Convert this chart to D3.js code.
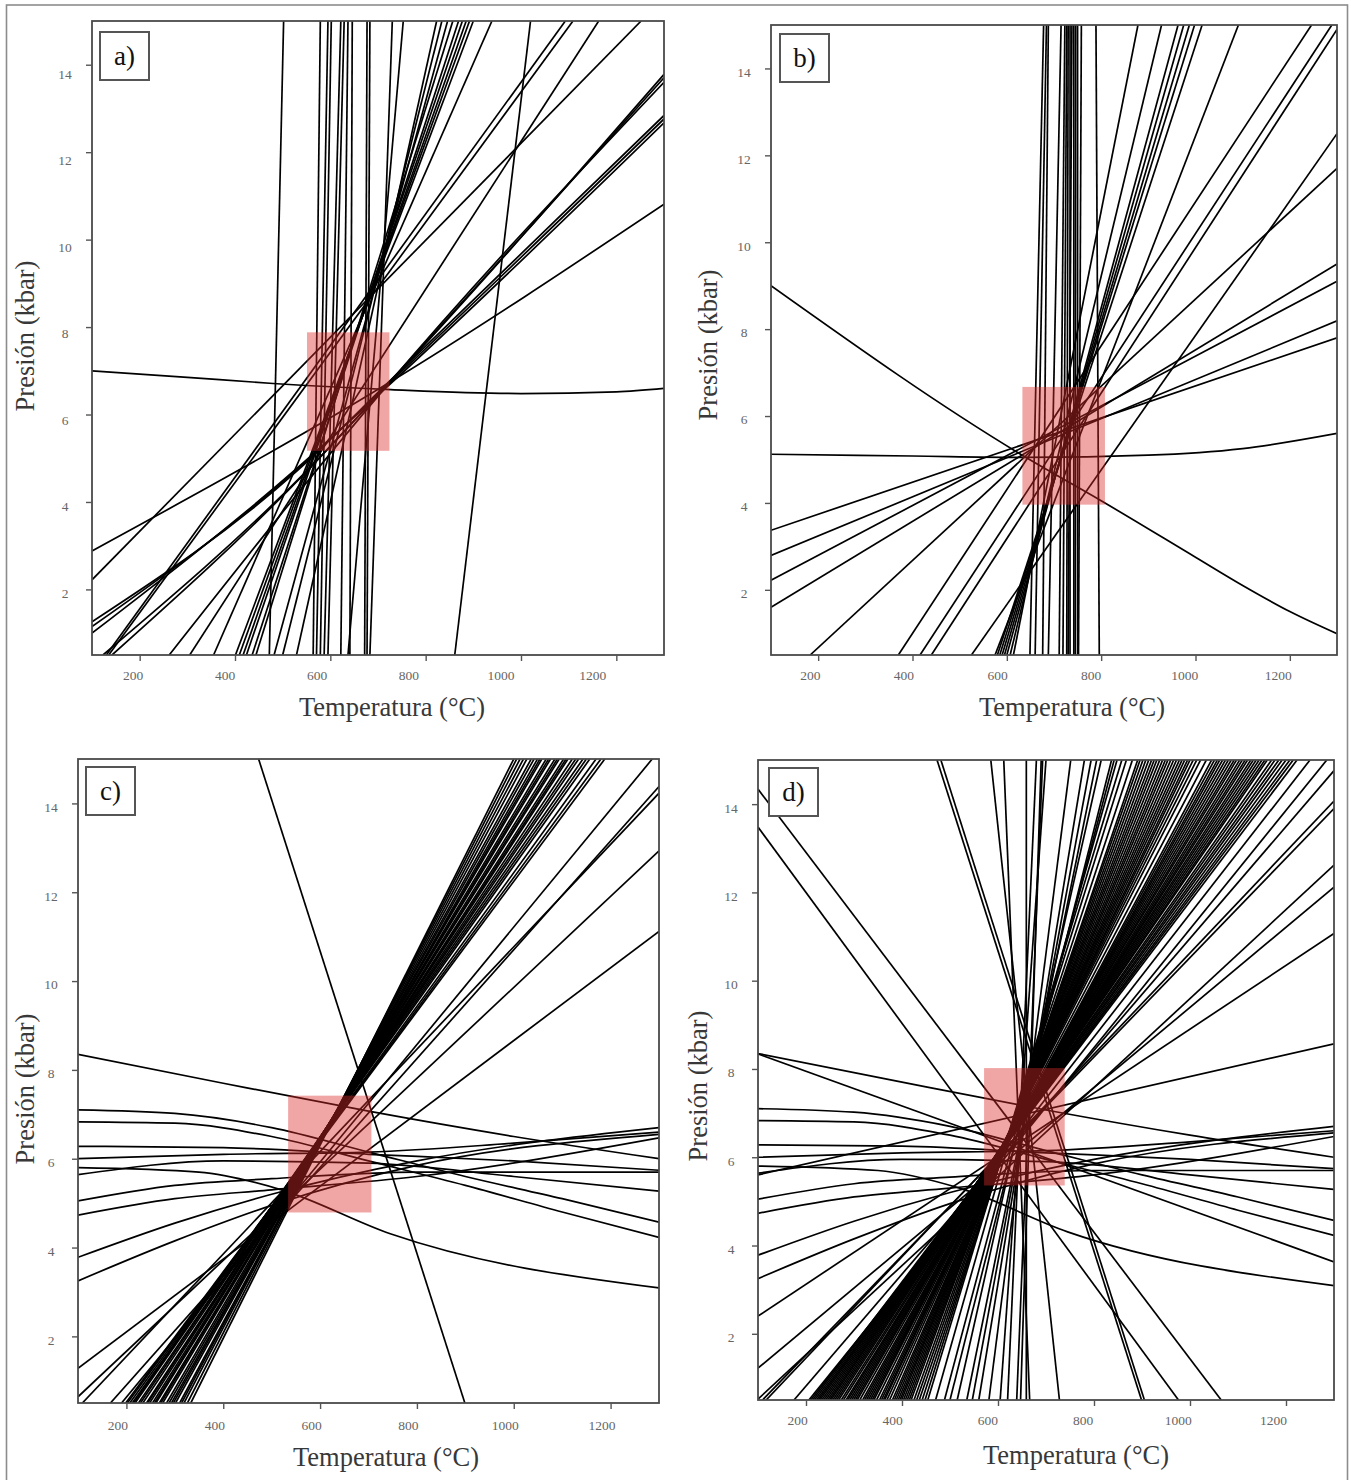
<!DOCTYPE html>
<html><head><meta charset="utf-8">
<script src="https://cdn.jsdelivr.net/npm/d3@7"></script>
<style>body{margin:0;background:#fff}svg{display:block}</style>
</head><body>
<svg id="fig" width="1351" height="1480"></svg>
<script>
// Axes shared by all four P–T diagrams
const tempDomain = [100, 1300];
const presDomain = [0.5, 15];
const tempTicks = [200, 400, 600, 800, 1000, 1200];
const presTicks = [2, 4, 6, 8, 10, 12, 14];
const panelLetters = ["a)", "b)", "c)", "d)"];
const xTitle = "Temperatura (°C)";
const yTitle = "Presión (kbar)";

// Shaded P–T windows: [Tmin, Tmax, Pmin, Pmax]
const windowA = [551, 724, 5.17, 7.88];
const windowB = [633, 808, 3.96, 6.67];
const windowC = [534, 706, 4.79, 7.42];
const windowD = [571, 739, 5.36, 8.02];

// ---- panel a ----
// near-vertical reactions: [T at 0.5 kbar, T at 15 kbar]
const steepA = [[472,502],[564,579],[571,595],[579,602],[587,622],[595,629],[622,637],[641,646],
  [672,677],[677,683],[683,730],[637,753],[861,1020]];
// straight reactions from the bottom edge to the top edge: [T at 0.5, T at 15]
const fanA = [[401,900],[409,892],[417,885],[424,877],[436,869],[444,857],[482,846],[500,834],
  [529,823],[355,939],[305,1163],[130,1093],[135,1109]];
// other reactions as [T, P] polylines
const curvesA = [
  [[100,7.0],[300,6.85],[480,6.71],[727,6.57],[1000,6.48],[1200,6.52],[1300,6.6]],
  [[100,2.88],[722,6.72],[1300,10.81]],
  [[100,2.22],[1252,15]],
  [[100,1.26],[529,4.70],[722,6.74],[1300,12.84]],
  [[100,1.15],[529,4.73],[722,6.70],[1300,12.76]],
  [[100,1.0],[529,4.76],[722,6.66],[1300,12.67]],
  [[123,0.5],[552,4.73],[722,6.7],[1300,13.78]],
  [[142,0.5],[555,4.75],[722,6.72],[1300,13.7]],
  [[262,0.5],[722,6.7],[1300,13.6]]
];

// ---- panel b ----
const steepB = [[649,678],[660,684],[676,688],[688,715],[711,723],[719,727],[727,730],[730,738],
  [734,734],[742,742],[745,746],[750,750],[752,758],[796,789]];
const fanB = [[575,1091],[580,1014],[585,998],[590,987],[595,975],[600,963],[607,928],[614,878],
  [370,1246],[416,1289]];
const curvesB = [
  [[100,9.0],[640,5.05],[800,4.05],[1000,2.75],[1100,2.1],[1200,1.5],[1300,0.99]],
  [[100,5.12],[400,5.08],[640,5.05],[900,5.1],[1100,5.25],[1300,5.6]],
  [[100,3.37],[1300,7.8]],
  [[100,2.79],[1300,8.19]],
  [[100,2.22],[1300,9.1]],
  [[100,1.60],[1300,9.5]],
  [[183,0.5],[1300,11.7]],
  [[525,0.5],[1300,12.5]],
  [[440,0.5],[1300,14.9]]
];

// ---- shallow curved reactions seen in panels c and d ----
const flatCurves = [
  [[100,8.35],[400,7.7],[700,7.07],[1000,6.5],[1300,6.0]],
  [[100,7.1],[300,7.02],[500,6.7],[700,6.15],[900,5.6],[1100,5.1],[1300,4.57]],
  [[100,6.83],[300,6.8],[500,6.5],[700,5.95],[900,5.4],[1100,4.8],[1300,4.23]],
  [[100,6.28],[400,6.25],[700,6.1],[1000,5.95],[1300,5.74]],
  [[100,6.0],[400,6.1],[700,6.15],[1000,6.35],[1300,6.6]],
  [[100,5.8],[350,5.7],[520,5.3],[745,4.31],[1300,3.09]],
  [[100,5.64],[400,5.95],[700,5.9],[1000,5.6],[1300,5.27]],
  [[100,5.05],[300,5.4],[500,5.55],[800,5.7],[1300,5.7]],
  [[100,4.73],[300,5.1],[500,5.3],[800,5.6],[1300,6.47]],
  [[100,3.78],[300,4.55],[500,5.2],[800,5.95],[1300,6.7]],
  [[100,3.25],[300,4.15],[500,4.95],[800,5.85],[1300,6.55]]
];

// ---- panel c ----
const fanBottomC = [198.5,202,207,212,215,218,225,229,234,241.5,244,248,254,258,261,268,271,275,283,
  288,293,297,301.5,310,314,319,326,333];
const fanTopC = [1188,1180,1170,1157,1150,1143,1134,1128,1121,1112,1108,1103,1094,1090,1085,1076,1072,
  1067,1058,1054,1049,1042,1036,1027,1020,1013,1006,1000];
const curvesC = [
  [[473,15],[899,0.5]],
  [[100,1.28],[1300,11.12]],
  [[100,0.64],[1300,12.93]],
  [[109,0.5],[1300,14.23]],
  [[167,0.5],[1300,14.38]],
  [[190,0.5],[1286,15]]
];

// ---- panel d ----
const fanBottomD = [206,210,214,218,222,225.5,229,233,237,241,245,248.7,252,256,260,264,268,273.5,278,283.5,
  287,291,295,299,303,306.7,312,318,322,326,330,334,338,341.5,347,353,357,361,364,368.6,374,380,384,388,
  392,395.7,399,403,407,411,415,419,425,430.5,436,442,448,453.7,470,488.5,500,515,535,546.5,560,581];
const fanTopD = [1285,1250,1223,1215,1208,1200,1192,1185,1177,1170,1161,1156,1150,1144,1138,1132,1126.6,
  1120,1115,1109,1103.5,1097,1092,1086,1080,1074,1068,1062,1057,1051,1045,1034,1022,1014,1006.7,1000,995,
  989,983.5,978,972,966,960,954,948.7,943,937,931,925.5,920,914,908,902,896,891,880,867.5,858,848,842,
  836.6,815,805.6,794,780,751.5];
const steepD = [[728,585],[666,612],[659,659],[647,690],[639,693],[604.5,700],[620,680]];
const curvesD = [
  [[473,15],[899,0.5]],
  [[481,15],[905,0.5]],
  [[100,14.34],[1065,0.5]],
  [[100,13.48],[976,0.5]],
  [[100,8.34],[1300,3.63]],
  [[100,5.6],[1300,8.57]],
  [[100,2.4],[1300,11.07]],
  [[100,1.22],[1300,12.12]],
  [[100,0.52],[1300,12.62]],
  [[109.5,0.5],[1300,13.9]],
  [[117,0.5],[1300,14.07]],
  [[175,0.5],[1300,14.76]]
];

// helpers turning edge crossings into [T,P] polylines
const pMin = presDomain[0], pMax = presDomain[1];
const edgePairs = pairs => pairs.map(([tb, tt]) => [[tb, pMin], [tt, pMax]]);
const zipFan = (bottoms, tops) => bottoms.map((tb, i) => [[tb, pMin], [tops[i], pMax]]);

const panels = [
  { frame: {x0: 92, x1: 664, y0: 21, y1: 655},
    lines: [...edgePairs(steepA), ...edgePairs(fanA), ...curvesA],
    win: windowA, box: [8, 11],
    xlab: {a: -7, b: -0.017, y: 25}, ylab: {a: 3.3, b: 0.48},
    xt: [392, 716], yt: [34, 336] },
  { frame: {x0: 771, x1: 1337, y0: 25, y1: 655},
    lines: [...edgePairs(steepB), ...edgePairs(fanB), ...curvesB],
    win: windowB, box: [9, 9],
    xlab: {a: -8.4, b: -0.0036, y: 25}, ylab: {a: 2.8, b: 0.05},
    xt: [1072, 716], yt: [717, 345] },
  { frame: {x0: 78, x1: 659, y0: 759, y1: 1403},
    lines: [...zipFan(fanBottomC, fanTopC), ...curvesC, ...flatCurves],
    win: windowC, box: [8, 8],
    xlab: {a: -9, b: 0, y: 27}, ylab: {a: 3.2, b: 0},
    xt: [386, 1466], yt: [34, 1089] },
  { frame: {x0: 758, x1: 1334, y0: 760, y1: 1400},
    lines: [...zipFan(fanBottomD, fanTopD), ...edgePairs(steepD), ...curvesD, ...flatCurves],
    win: windowD, box: [11, 8],
    xlab: {a: -9, b: -0.004, y: 25}, ylab: {a: 3.2, b: 0},
    xt: [1076, 1464], yt: [707, 1086] }
];

const svg = d3.select("#fig");
svg.append("rect").attr("width", 1351).attr("height", 1480).attr("fill", "#fff");

// surrounding table border
svg.append("rect").attr("x", 6.5).attr("y", 5).attr("width", 1341).attr("height", 1490)
  .attr("fill", "none").attr("stroke", "#8c8c8c").attr("stroke-width", 1.6);

const serif = "'Liberation Serif', 'DejaVu Serif', serif";
const tickFmt = d3.format("d");

panels.forEach((p, i) => {
  const f = p.frame;
  const x = d3.scaleLinear().domain(tempDomain).range([f.x0, f.x1]);
  const y = d3.scaleLinear().domain(presDomain).range([f.y1, f.y0]);
  const g = svg.append("g");

  const clipId = "clip" + i;
  g.append("clipPath").attr("id", clipId).append("rect")
    .attr("x", f.x0).attr("y", f.y0).attr("width", f.x1 - f.x0).attr("height", f.y1 - f.y0);

  const line = d3.line().x(d => x(d[0])).y(d => y(d[1]));
  const smooth = d3.line().x(d => x(d[0])).y(d => y(d[1])).curve(d3.curveMonotoneX);

  g.append("g").attr("clip-path", `url(#${clipId})`)
    .selectAll("path").data(p.lines).join("path")
    .attr("d", d => {
      const pts = d.slice().sort((u, v) => u[0] - v[0]);
      return pts.length > 2 ? smooth(pts) : line(pts);
    })
    .attr("fill", "none").attr("stroke", "#000").attr("stroke-width", 1.7)
    .attr("stroke-linejoin", "round");

  // shaded window
  const [t0, t1, q0, q1] = p.win;
  g.append("rect")
    .attr("x", x(t0)).attr("y", y(q1))
    .attr("width", x(t1) - x(t0)).attr("height", y(q0) - y(q1))
    .attr("fill", "rgb(222,42,42)").attr("fill-opacity", 0.42);

  // plot frame
  g.append("rect").attr("x", f.x0).attr("y", f.y0)
    .attr("width", f.x1 - f.x0).attr("height", f.y1 - f.y0)
    .attr("fill", "none").attr("stroke", "#4a4a4a").attr("stroke-width", 1.8);

  // bottom axis
  const ax = g.append("g").attr("transform", `translate(0,${f.y1})`)
    .call(d3.axisBottom(x).tickValues(tempTicks).tickFormat(tickFmt).tickSize(6).tickSizeOuter(0));
  ax.select(".domain").remove();
  ax.selectAll(".tick line").attr("stroke", "#555").attr("stroke-width", 1.4);
  ax.selectAll(".tick text")
    .attr("y", p.xlab.y).attr("dy", 0)
    .attr("dx", v => p.xlab.a + p.xlab.b * (v - 200))
    .attr("font-family", serif).attr("font-size", 13.5).attr("fill", "#666");

  // left axis
  const ay = g.append("g").attr("transform", `translate(${f.x0},0)`)
    .call(d3.axisLeft(y).tickValues(presTicks).tickFormat(tickFmt).tickSize(6).tickSizeOuter(0));
  ay.select(".domain").remove();
  ay.selectAll(".tick line").attr("stroke", "#555").attr("stroke-width", 1.4);
  ay.selectAll(".tick text")
    .attr("x", -27).attr("dy", 0).attr("text-anchor", "middle")
    .attr("y", v => p.ylab.a + p.ylab.b * (v - 2) + 4.7)
    .attr("font-family", serif).attr("font-size", 13.5).attr("fill", "#666");

  // axis titles
  g.append("text").attr("x", p.xt[0]).attr("y", p.xt[1]).attr("text-anchor", "middle")
    .attr("font-family", serif).attr("font-size", 26.5).attr("fill", "#383838").text(xTitle);
  g.append("text").attr("transform", `translate(${p.yt[0]},${p.yt[1]}) rotate(-90)`)
    .attr("text-anchor", "middle")
    .attr("font-family", serif).attr("font-size", 26.5).attr("fill", "#383838").text(yTitle);

  // panel letter box
  const bx = f.x0 + p.box[0], by = f.y0 + p.box[1];
  g.append("rect").attr("x", bx).attr("y", by).attr("width", 49).attr("height", 48)
    .attr("fill", "#fff").attr("stroke", "#555").attr("stroke-width", 2);
  g.append("text").attr("x", bx + 24.5).attr("y", by + 33).attr("text-anchor", "middle")
    .attr("font-family", serif).attr("font-size", 27).attr("fill", "#111").text(panelLetters[i]);
});
</script>
</body></html>
